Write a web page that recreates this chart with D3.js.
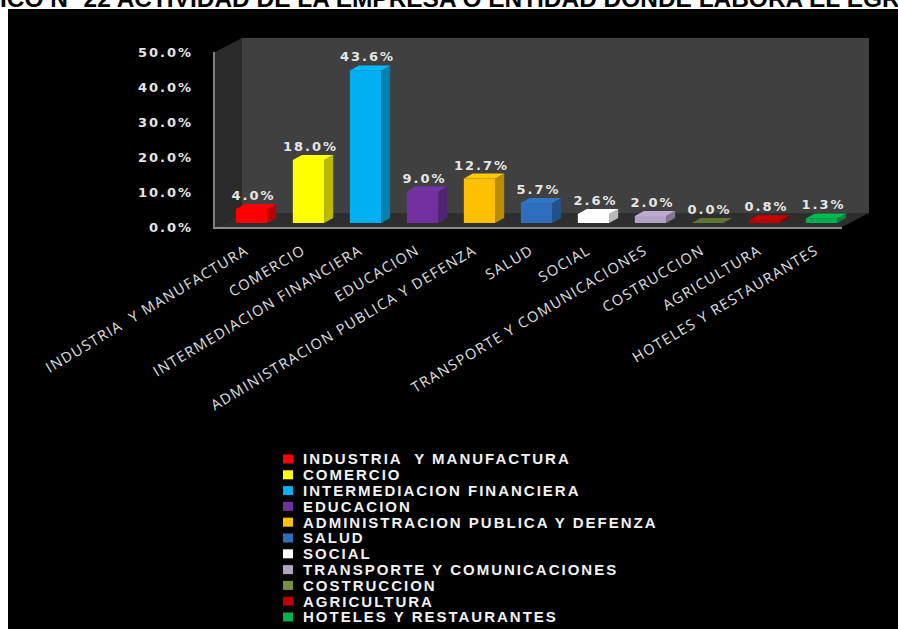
<!DOCTYPE html>
<html>
<head>
<title>Actividad de la empresa</title>
<script src="https://d3js.org/d3.v7.min.js"></script>
<style>
  body { margin: 0; background: #fff; overflow: hidden; }
  .tick-lbl { font-family: "DejaVu Sans", sans-serif; font-weight: bold; font-size: 13px; letter-spacing: 2px; fill: #e6e6e6; }
  .cat-lbl { font-family: "Open Sans", sans-serif; font-size: 14.5px; letter-spacing: 1.4px; fill: #e0e0e0; white-space: pre; }
  .leg-lbl { font-family: "Liberation Sans", Arial, sans-serif; font-weight: bold; font-size: 15px; letter-spacing: 2px; fill: #f2f2f2; white-space: pre; }
</style>
</head>
<body>
<script>
// data
var categories = [
  "INDUSTRIA  Y MANUFACTURA", "COMERCIO", "INTERMEDIACION FINANCIERA", "EDUCACION",
  "ADMINISTRACION PUBLICA Y DEFENZA", "SALUD", "SOCIAL", "TRANSPORTE Y COMUNICACIONES",
  "COSTRUCCION", "AGRICULTURA", "HOTELES Y RESTAURANTES"
];
var values = [4.0, 18.0, 43.6, 9.0, 12.7, 5.7, 2.6, 2.0, 0.0, 0.8, 1.3];
var colors = ["#ff0000", "#ffff00", "#00b0f0", "#7030a0", "#ffc000", "#2e6fbd",
              "#ffffff", "#b3a2c7", "#76923c", "#c00000", "#00b050"];
var yTicks = [0, 10, 20, 30, 40, 50];
var title = "GRAFICO Nº 22 ACTIVIDAD DE LA EMPRESA O ENTIDAD DONDE LABORA EL EGRESADO";

var W = 898, H = 629;
var svg = d3.select("body").append("svg").attr("width", W).attr("height", H);

// title (sits above the black panel, mostly clipped by the page top)
var tfont = "Liberation Sans, Arial, sans-serif";
function textW(s) {
  var n = svg.append("text").style("font-family", tfont).style("font-weight", "bold")
    .style("font-size", "20px").style("white-space", "pre").text(s);
  var w = n.node().getComputedTextLength();
  n.remove();
  return w;
}
// in the picture "...ICO" starts at the left edge and the "R" of "EGR" is cut at the right edge
var pre = textW("GRAF");
var upto = textW(title.slice(0, title.indexOf("EGRESADO") + 3));
var k = 898 / (upto - pre - textW("R") * 0.1);
svg.append("text")
  .attr("x", -pre * k)
  .attr("y", 7)
  .style("font-family", tfont)
  .style("font-weight", "bold")
  .style("font-size", (20 * k) + "px")
  .attr("fill", "#000")
  .text(title);

// black panel
svg.append("rect").attr("x", 8).attr("y", 9).attr("width", W - 8).attr("height", H - 9).attr("fill", "#000");

// scales (front plane)
var x = d3.scaleBand().domain(categories).range([215, 842]);
var y = d3.scaleLinear().domain([0, 50]).range([227, 52]);
var depth = [27, -14];

var x0 = x.range()[0], x1 = x.range()[1], y0 = y(0), yTop = y(50);

// walls and floor
var pt = function(a) { return a.map(function(p) { return p.join(","); }).join(" "); };
svg.append("polygon").attr("fill", "#404040")
  .attr("points", pt([[x0 + depth[0], yTop + depth[1]], [x1 + depth[0], yTop + depth[1]], [x1 + depth[0], y0 + depth[1]], [x0 + depth[0], y0 + depth[1]]]));
svg.append("polygon").attr("fill", "#2a2a2a")
  .attr("points", pt([[x0, yTop], [x0 + depth[0], yTop + depth[1]], [x0 + depth[0], y0 + depth[1]], [x0, y0]]));
svg.append("polygon").attr("fill", "#2e2e2e")
  .attr("points", pt([[x0, y0], [x0 + depth[0], y0 + depth[1]], [x1 + depth[0], y0 + depth[1]], [x1, y0]]));
svg.append("line").attr("x1", x0 - 1).attr("x2", x0 - 1).attr("y1", yTop).attr("y2", y0 + 2)
  .attr("stroke", "#7f7f7f").attr("stroke-width", 2);
svg.append("line").attr("x1", x0 - 2).attr("x2", x1).attr("y1", y0 + 1).attr("y2", y0 + 1)
  .attr("stroke", "#8c8c8c").attr("stroke-width", 2);

// y axis
var yAxis = svg.append("g").attr("transform", "translate(" + x0 + ",0)")
  .call(d3.axisLeft(y).tickValues(yTicks).tickSize(0).tickPadding(22)
    .tickFormat(function(d) { return d.toFixed(1) + "%"; }));
yAxis.select(".domain").remove();
yAxis.selectAll("text").attr("class", "tick-lbl").attr("fill", null).attr("font-family", null).attr("font-size", null);

// bars
var bw = x.bandwidth() * 0.55;
var off = [8, -4], bd = [9, -5];
var bars = svg.append("g").selectAll("g").data(values).enter().append("g");
bars.each(function(v, i) {
  var g = d3.select(this);
  var c = d3.color(colors[i]);
  var cx = x(categories[i]) + x.bandwidth() / 2 + off[0];
  var l = cx - bw / 2, r = cx + bw / 2;
  var yb = y(0) + off[1], yt = y(v) + off[1];
  g.append("polygon").attr("fill", c.darker(0.9))
    .attr("points", pt([[r, yt], [r + bd[0], yt + bd[1]], [r + bd[0], yb + bd[1]], [r, yb]]));
  g.append("rect").attr("x", l).attr("y", yt).attr("width", bw).attr("height", yb - yt).attr("fill", c);
  g.append("polygon").attr("fill", v === 0 ? c.darker(0.6) : c.brighter(0.15))
    .attr("points", pt([[l, yt], [r, yt], [r + bd[0], yt + bd[1]], [l + bd[0], yt + bd[1]]]));
  g.append("text").attr("class", "tick-lbl").attr("text-anchor", "middle")
    .attr("x", cx + 2).attr("y", yt - 9).text(v.toFixed(1) + "%");
});

// category labels
var xAxis = svg.append("g").attr("transform", "translate(0," + y0 + ")")
  .call(d3.axisBottom(x).tickSize(0));
xAxis.select(".domain").remove();
xAxis.selectAll("text").attr("class", "cat-lbl").attr("fill", null).attr("font-family", null).attr("font-size", null)
  .attr("text-anchor", "end").attr("dy", 0).attr("y", 0)
  .attr("transform", "translate(6,26) rotate(-31)");

// legend
var leg = svg.append("g").selectAll("g").data(categories).enter().append("g")
  .attr("transform", function(d, i) { return "translate(283," + (459 + i * 15.8) + ")"; });
leg.append("rect").attr("x", 0).attr("y", -4.5).attr("width", 10).attr("height", 9)
  .attr("fill", function(d, i) { return colors[i]; });
leg.append("text").attr("class", "leg-lbl").attr("x", 20).attr("dy", "0.36em").text(function(d) { return d; });
</script>
</body>
</html>
